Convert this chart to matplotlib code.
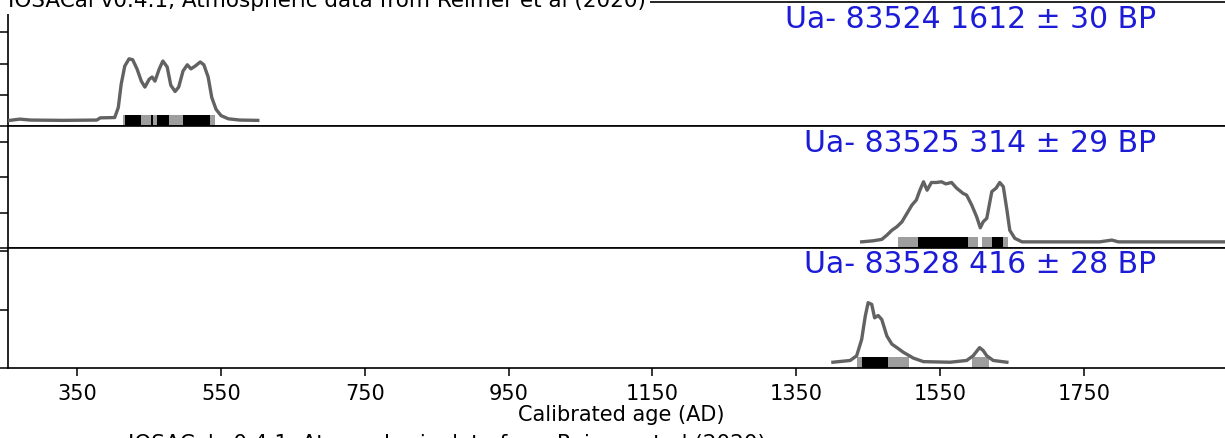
import matplotlib
matplotlib.use("Agg")
import numpy as np
import matplotlib.pyplot as plt
from matplotlib.ticker import MultipleLocator
from matplotlib.transforms import blended_transform_factory

# Sample labels (lab code, conventional age)
labels = ["Ua- 83524 1612 ± 30 BP", "Ua- 83525 314 ± 29 BP", "Ua- 83528 416 ± 28 BP"]

# Calibrated distributions: calendar year (AD) and relative probability density
years_83524 = [256, 270, 285, 330, 377, 382, 402, 407, 411, 416, 422, 427, 433, 439,
               444, 450, 454, 458, 464, 469, 475, 480, 486, 491, 497, 503, 508, 514,
               521, 526, 532, 537, 543, 550, 560, 576, 601]
dens_83524 = [0.00, 0.04, 0.01, 0.00, 0.01, 0.08, 0.09, 0.41, 1.15, 1.73, 1.96, 1.93,
              1.64, 1.25, 1.06, 1.31, 1.38, 1.25, 1.64, 1.89, 1.70, 1.12, 0.92, 1.06,
              1.57, 1.77, 1.64, 1.73, 1.86, 1.77, 1.38, 0.73, 0.35, 0.15, 0.05, 0.01, 0.00]

years_83525 = [1441, 1457, 1469, 1476, 1483, 1490, 1497, 1504, 1511, 1517, 1522, 1527,
               1532, 1538, 1545, 1552, 1558, 1566, 1573, 1582, 1587, 1594, 1601, 1606,
               1610, 1615, 1622, 1628, 1633, 1638, 1643, 1647, 1654, 1664, 1689, 1772,
               1789, 1798, 1874, 1960]
dens_83525 = [0.00, 0.03, 0.07, 0.19, 0.33, 0.43, 0.57, 0.81, 1.05, 1.19, 1.47, 1.71,
              1.47, 1.69, 1.69, 1.71, 1.65, 1.69, 1.53, 1.38, 1.33, 1.05, 0.71, 0.40,
              0.57, 0.67, 1.43, 1.53, 1.69, 1.57, 0.91, 0.33, 0.10, 0.00, 0.00, 0.00,
              0.05, 0.00, 0.00, 0.00]

years_83528 = [1401, 1425, 1434, 1441, 1446, 1450, 1455, 1459, 1464, 1469, 1476, 1483,
               1490, 1499, 1513, 1527, 1564, 1587, 1596, 1605, 1610, 1615, 1624, 1643]
dens_83528 = [0.00, 0.03, 0.11, 0.39, 0.79, 1.02, 0.99, 0.76, 0.80, 0.73, 0.45, 0.31,
              0.25, 0.17, 0.07, 0.01, 0.00, 0.03, 0.11, 0.25, 0.20, 0.11, 0.03, 0.00]

# Highest probability density ranges (calendar years AD)
hpd68 = [
    [(416, 438), (452, 455), (461, 477), (497, 534)],
    [(1519, 1589), (1622, 1638)],
    [(1442, 1478)],
]
hpd95 = [
    [(413, 541)],
    [(1491, 1603), (1608, 1645)],
    [(1435, 1507), (1594, 1618)],
]

series = [(years_83524, dens_83524), (years_83525, dens_83525), (years_83528, dens_83528)]

x_ticks = [350, 550, 750, 950, 1150, 1350, 1550, 1750]
caption = "IOSACal v0.4.1, Atmospheric data from Reimer et al (2020)"

W, H = 1225, 439
fig = plt.figure(figsize=(W / 100, H / 100), dpi=100)
axes = fig.subplots(
    3, 1, sharex=True,
    gridspec_kw=dict(hspace=0, height_ratios=[124, 121, 120],
                     left=8.3 / W, right=1.008, top=1 - 3 / H, bottom=1 - 369 / H),
)

for i, ax in enumerate(axes):
    yrs, dens = series[i]
    dens = np.asarray(dens, dtype=float)
    top = 2.02 * dens.max()
    base = 0.048 * top
    ax.set_ylim(0, top)

    bt = blended_transform_factory(ax.transData, ax.transAxes)
    for a, b in hpd95[i]:
        ax.fill_between([a, b], 0, 0.09, transform=bt, color="#9e9e9e", lw=0, zorder=2)
    for a, b in hpd68[i]:
        ax.fill_between([a, b], 0, 0.09, transform=bt, color="black", lw=0, zorder=3)

    ax.plot(yrs, base + dens, color="#626262", lw=2.4, zorder=4, solid_joinstyle="round")

    ax.yaxis.set_major_locator(MultipleLocator(1))
    ax.tick_params(axis="y", direction="out", length=5.8, width=1.1, labelleft=False)
    for s in ax.spines.values():
        s.set_linewidth(1.2)

    tt = blended_transform_factory(fig.transFigure, ax.transAxes)
    ax.text(1156 / W, 1 - 25 / 122, labels[i], transform=tt, ha="right", va="baseline",
            fontsize=21.5, color="#1c1cd8")

    if i < 2:
        ax.tick_params(axis="x", bottom=False, labelbottom=False)

ax = axes[-1]
ax.set_xlim(254, 1960)
ax.set_xticks(x_ticks)
ax.tick_params(axis="x", direction="out", length=5.8, width=1.1, labelsize=15, pad=5)
ax.set_xlabel("Calibrated age (AD)", fontsize=15, labelpad=1)

fig.text(8 / W, 1 - 7 / H, caption, ha="left", va="baseline", fontsize=15.5,
         bbox=dict(boxstyle="square,pad=0.2", fc="white", ec="none"), zorder=5)
fig.text(128 / W, 1 - 450 / H, caption, ha="left", va="baseline", fontsize=15.5)

fig.savefig("out.png", dpi=100)
